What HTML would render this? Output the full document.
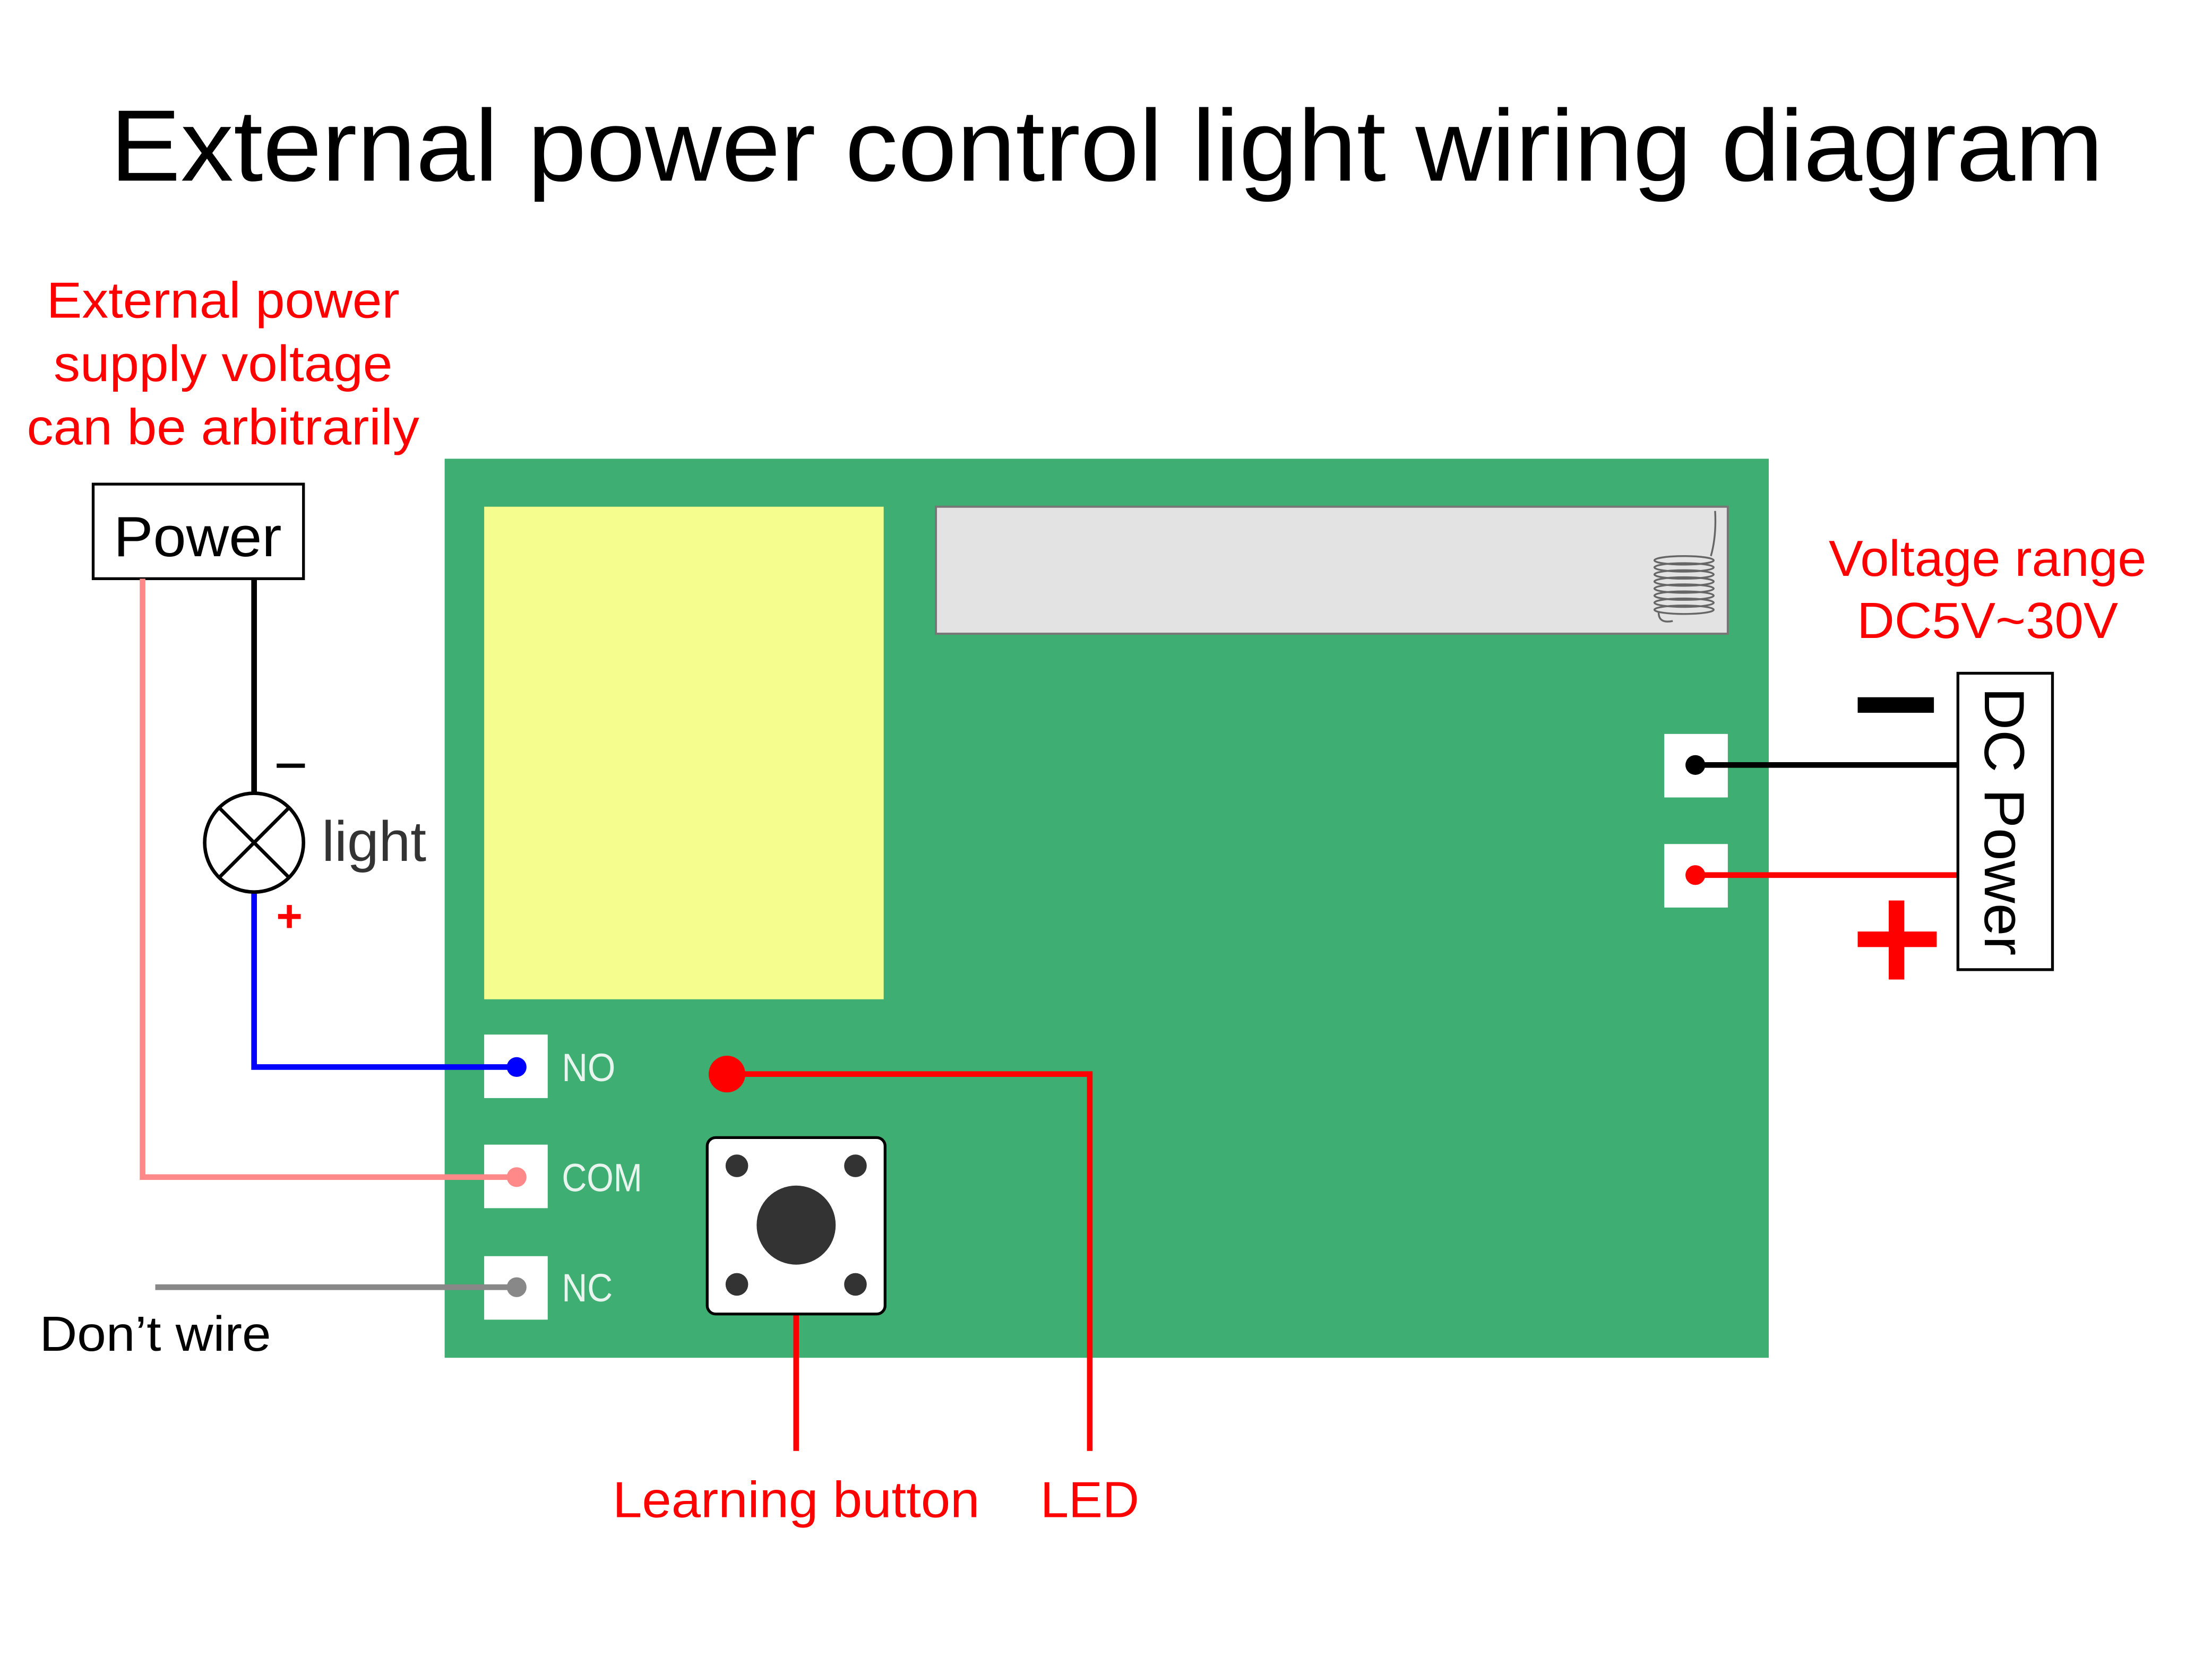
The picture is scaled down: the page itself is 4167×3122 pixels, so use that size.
<!DOCTYPE html>
<html><head><meta charset="utf-8"><style>html,body{margin:0;padding:0;background:#fff}svg{display:block}</style></head>
<body>
<svg width="4167" height="3122" viewBox="0 0 1567 1174" xmlns="http://www.w3.org/2000/svg" font-family="Liberation Sans, DejaVu Sans, sans-serif">
<rect width="1567" height="1174" fill="#fff"/>
<text x="784" y="128" font-size="72" text-anchor="middle" textLength="1412" lengthAdjust="spacingAndGlyphs" fill="#000">External power control light wiring diagram</text>
<g fill="#f00" font-size="36" text-anchor="middle" lengthAdjust="spacingAndGlyphs">
<text x="158" y="225" textLength="250" lengthAdjust="spacingAndGlyphs">External power</text>
<text x="158" y="270" textLength="240" lengthAdjust="spacingAndGlyphs">supply voltage</text>
<text x="158" y="315" textLength="278" lengthAdjust="spacingAndGlyphs">can be arbitrarily</text>
<text x="1408" y="408" textLength="225" lengthAdjust="spacingAndGlyphs">Voltage range</text>
<text x="1408" y="452" textLength="185" lengthAdjust="spacingAndGlyphs">DC5V~30V</text>
<text x="564" y="1075" textLength="260" lengthAdjust="spacingAndGlyphs">Learning button</text>
<text x="772" y="1075" textLength="70" lengthAdjust="spacingAndGlyphs">LED</text>
</g>
<rect x="66" y="343" width="149" height="67" fill="#fff" stroke="#000" stroke-width="2"/>
<text x="140" y="394" font-size="40" text-anchor="middle" textLength="119" lengthAdjust="spacingAndGlyphs">Power</text>
<rect x="315" y="325" width="938" height="637" fill="#3fae72"/>
<rect x="343" y="359" width="283" height="349" fill="#f5fd8f"/>
<rect x="663" y="359" width="561" height="90" fill="#e3e3e3" stroke="#777" stroke-width="1.5"/>
<g fill="none" stroke="#666" stroke-width="1.3">
<ellipse cx="1193" cy="397" rx="21" ry="3"/><ellipse cx="1193" cy="402" rx="21" ry="3"/><ellipse cx="1193" cy="407" rx="21" ry="3"/><ellipse cx="1193" cy="412" rx="21" ry="3"/><ellipse cx="1193" cy="417" rx="21" ry="3"/><ellipse cx="1193" cy="422" rx="21" ry="3"/><ellipse cx="1193" cy="427" rx="21" ry="3"/><ellipse cx="1193" cy="432" rx="21" ry="3"/>
<path d="M1212 394 Q1216 380 1215 362"/><path d="M1175 434 Q1175 442 1185 440"/>
</g>
<g fill="#fff">
<rect x="1179" y="520" width="45" height="45"/><rect x="1179" y="598" width="45" height="45"/>
<rect x="343" y="733" width="45" height="45"/><rect x="343" y="811" width="45" height="45"/><rect x="343" y="890" width="45" height="45"/>
</g>
<g fill="none" stroke-width="4">
<line x1="1201" y1="542" x2="1387" y2="542" stroke="#000"/>
<line x1="1201" y1="620" x2="1387" y2="620" stroke="#f00"/>
<polyline points="180,632 180,756 366,756" stroke="#00f"/>
<line x1="180" y1="410" x2="180" y2="562" stroke="#000"/>
<polyline points="101,410 101,834 366,834" stroke="#f88"/>
<line x1="110" y1="912" x2="366" y2="912" stroke="#888"/>
<polyline points="515,761 772,761 772,1028" stroke="#f00"/>
<line x1="564" y1="868" x2="564" y2="1028" stroke="#f00"/>
</g>
<circle cx="1201" cy="542" r="7" fill="#000"/><circle cx="1201" cy="620" r="7" fill="#f00"/>
<circle cx="366" cy="756" r="7" fill="#00f"/><circle cx="366" cy="834" r="7" fill="#f88"/><circle cx="366" cy="912" r="7" fill="#888"/>
<g fill="#e8f5ee" font-size="28"><text x="398" y="766" textLength="38" lengthAdjust="spacingAndGlyphs">NO</text><text x="398" y="844" textLength="57" lengthAdjust="spacingAndGlyphs">COM</text><text x="398" y="922" textLength="36" lengthAdjust="spacingAndGlyphs">NC</text></g>
<rect x="1387" y="477" width="67" height="210" fill="#fff" stroke="#000" stroke-width="2"/>
<text transform="translate(1406,582) rotate(90)" font-size="40" text-anchor="middle" textLength="190" lengthAdjust="spacingAndGlyphs">DC Power</text>
<rect x="1316" y="494" width="54" height="11" fill="#000"/>
<rect x="1316" y="660" width="56" height="11" fill="#f00"/><rect x="1338" y="638" width="11" height="56" fill="#f00"/>
<circle cx="180" cy="597" r="35" fill="#fff" stroke="#000" stroke-width="2.5"/>
<line x1="155" y1="572" x2="205" y2="622" stroke="#000" stroke-width="2.5"/><line x1="205" y1="572" x2="155" y2="622" stroke="#000" stroke-width="2.5"/>
<rect x="196" y="541" width="20" height="3" fill="#000"/>
<text x="205" y="660" font-size="32" fill="#f00" text-anchor="middle" font-weight="bold">+</text>
<text x="228" y="610" font-size="40" fill="#333" textLength="74" lengthAdjust="spacingAndGlyphs">light</text>
<text x="28" y="957" font-size="35" textLength="164" lengthAdjust="spacingAndGlyphs">Don’t wire</text>
<circle cx="515" cy="761" r="13" fill="#f00"/>
<rect x="501" y="806" width="126" height="125" rx="6" fill="#fff" stroke="#000" stroke-width="2"/>
<circle cx="564" cy="868" r="28" fill="#333"/>
<g fill="#333"><circle cx="522" cy="826" r="8"/><circle cx="606" cy="826" r="8"/><circle cx="522" cy="910" r="8"/><circle cx="606" cy="910" r="8"/></g>
</svg>
</body></html>
